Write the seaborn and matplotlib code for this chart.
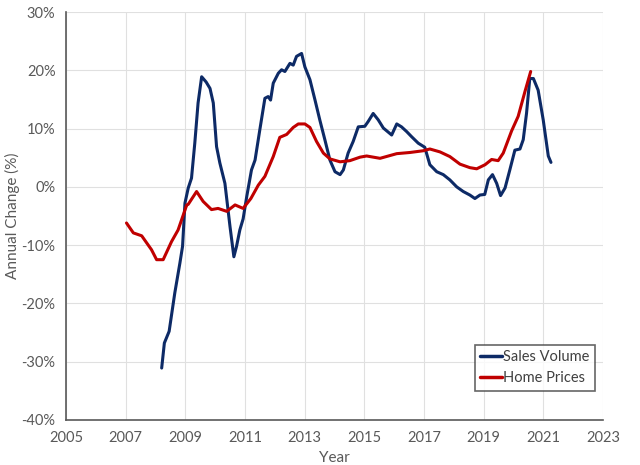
import pandas as pd
import matplotlib
matplotlib.use("Agg")
import matplotlib.pyplot as plt
import seaborn as sns
from matplotlib.ticker import FuncFormatter, MultipleLocator

# =========================
# Data
# =========================
sales_years = [2008.21, 2008.30, 2008.46, 2008.65, 2008.82, 2008.91, 2008.99, 2009.10, 2009.21, 2009.32,
               2009.43, 2009.55, 2009.70, 2009.83, 2009.94, 2010.05, 2010.16, 2010.33, 2010.50, 2010.63,
               2010.72, 2010.83, 2010.94, 2011.06, 2011.22, 2011.34, 2011.50, 2011.67, 2011.78, 2011.86,
               2011.95, 2012.12, 2012.23, 2012.34, 2012.51, 2012.62, 2012.73, 2012.90, 2013.01, 2013.18,
               2013.35, 2013.51, 2013.68, 2013.85, 2014.02, 2014.19, 2014.30, 2014.46, 2014.63, 2014.80,
               2015.02, 2015.13, 2015.30, 2015.47, 2015.64, 2015.92, 2016.09, 2016.25, 2016.42, 2016.59,
               2016.81, 2017.03, 2017.20, 2017.43, 2017.65, 2017.87, 2018.10, 2018.32, 2018.54, 2018.71,
               2018.88, 2019.04, 2019.16, 2019.30, 2019.44, 2019.57, 2019.72, 2019.88, 2020.05, 2020.22,
               2020.33, 2020.44, 2020.55, 2020.67, 2020.83, 2021.00, 2021.17, 2021.26]
sales_volume = [-31.1, -26.8, -24.8, -18.2, -13.1, -10.2, -2.8, -0.2, 1.5, 7.5,
                14.4, 18.9, 18.0, 16.9, 14.4, 6.9, 4.1, 0.6, -6.8, -12.0,
                -10.2, -7.4, -5.5, -1.7, 2.9, 4.6, 9.8, 15.2, 15.5, 14.9,
                17.8, 19.5, 20.1, 19.8, 21.2, 20.9, 22.4, 22.9, 20.6, 18.4,
                14.9, 11.5, 8.1, 4.6, 2.6, 2.1, 2.9, 5.8, 7.8, 10.3,
                10.4, 11.2, 12.6, 11.5, 10.1, 8.9, 10.8, 10.3, 9.5, 8.6,
                7.5, 6.8, 3.8, 2.6, 2.1, 1.2, 0.0, -0.8, -1.4, -2.0,
                -1.4, -1.3, 1.2, 2.1, 0.6, -1.5, -0.2, 2.9, 6.3, 6.5,
                8.1, 12.6, 18.6, 18.6, 16.6, 11.5, 5.3, 4.2]

price_years = [2007.03, 2007.26, 2007.54, 2007.87, 2008.04, 2008.26, 2008.54, 2008.76, 2009.05, 2009.10,
               2009.38, 2009.60, 2009.88, 2010.10, 2010.39, 2010.67, 2010.94, 2011.20, 2011.45, 2011.67,
               2011.95, 2012.17, 2012.40, 2012.62, 2012.79, 2013.01, 2013.18, 2013.40, 2013.63, 2013.85,
               2014.19, 2014.52, 2014.86, 2015.08, 2015.53, 2016.09, 2016.53, 2016.98, 2017.20, 2017.54,
               2017.87, 2018.21, 2018.54, 2018.77, 2019.05, 2019.27, 2019.49, 2019.66, 2019.94, 2020.16,
               2020.39, 2020.58]
home_prices = [-6.2, -7.9, -8.4, -10.8, -12.5, -12.5, -9.4, -7.4, -3.1, -3.0,
               -0.8, -2.5, -3.9, -3.7, -4.2, -3.1, -3.7, -2.0, 0.3, 1.8,
               5.2, 8.5, 9.0, 10.2, 10.8, 10.8, 10.2, 7.8, 5.8, 4.8,
               4.3, 4.5, 5.1, 5.3, 4.9, 5.7, 5.9, 6.2, 6.5, 6.0,
               5.2, 3.9, 3.3, 3.1, 3.8, 4.7, 4.5, 5.8, 9.6, 12.1,
               16.4, 19.8]

year_ticks = list(range(2005, 2024, 2))

data = pd.concat([
    pd.DataFrame({"Year": sales_years, "Change": sales_volume, "Series": "Sales Volume"}),
    pd.DataFrame({"Year": price_years, "Change": home_prices, "Series": "Home Prices"}),
])

palette = {"Sales Volume": "#0d2a66", "Home Prices": "#c00000"}
grey = "#595959"

# =========================
# Plot
# =========================
sns.set_style("white")
plt.rcParams["font.family"] = ["Lato", "DejaVu Sans"]

fig = plt.figure(figsize=(6.4, 4.65), dpi=100)
ax = fig.add_axes([0.103, 0.097, 0.839, 0.877])

sns.lineplot(ax=ax, data=data, x="Year", y="Change", hue="Series", palette=palette,
             estimator=None, sort=True, linewidth=2.2)

ax.set_xlim(2005, 2023)
ax.set_ylim(-40, 30)
ax.set_xticks(year_ticks)
ax.yaxis.set_major_locator(MultipleLocator(10))
ax.yaxis.set_major_formatter(FuncFormatter(lambda v, p: f"{v:.0f}%"))
ax.grid(True, color="#e0e0e0", linewidth=0.8)
ax.set_axisbelow(True)

for s in ["top", "right"]:
    ax.spines[s].set_visible(False)
for s in ["left", "bottom"]:
    ax.spines[s].set_color(grey)
    ax.spines[s].set_linewidth(1.2)
ax.tick_params(axis="both", direction="out", length=4, width=1, color=grey,
               labelcolor=grey, labelsize=10.5)
ax.tick_params(axis="x", pad=4)

ax.set_xlabel("Year", color=grey, fontsize=11)
ax.set_ylabel("Annual Change (%)", color=grey, fontsize=11, labelpad=1)

leg = ax.legend(loc="lower right", bbox_to_anchor=(0.985, 0.072), frameon=True, fancybox=False,
                edgecolor="#404040", handlelength=1.5, handletextpad=0.1, borderpad=0.35,
                labelspacing=0.5, fontsize=10.5, borderaxespad=0)
leg.get_frame().set_linewidth(1.2)
for t in leg.get_texts():
    t.set_color("#404040")
for h in leg.get_lines():
    h.set_linewidth(2.5)

plt.savefig("out.png", dpi=100)
